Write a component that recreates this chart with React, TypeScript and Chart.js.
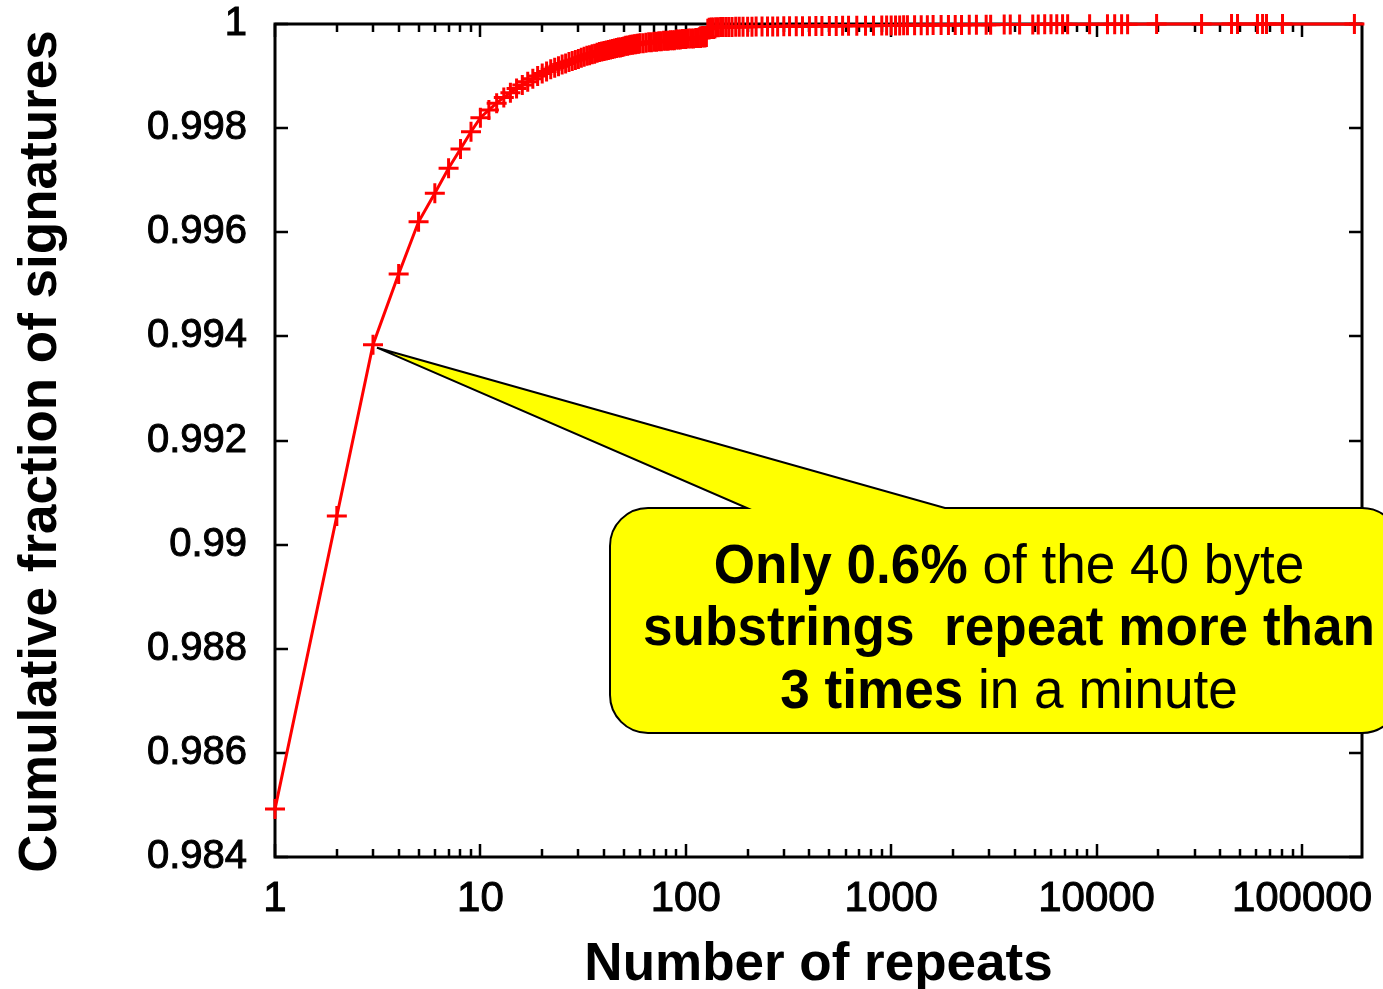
import React, { useEffect, useRef } from "react";
import { Chart, registerables } from "chart.js";

Chart.register(...registerables);

// ---- data ----
const repeatCounts: number[] = [
  1, 2, 3, 4, 5, 6, 7, 8, 9,
  10, 11, 12, 13, 14, 15, 16, 17, 18, 19,
  20, 21, 22, 23, 24, 25, 26, 27, 28, 29,
  30, 31, 32, 33, 34, 35, 36, 37, 38, 39,
  40, 41, 42, 43, 44, 45, 46, 47, 48, 49,
  50, 51, 52, 53, 54, 55, 56, 57, 58, 59,
  60, 62, 64, 66, 68, 70, 72, 74, 76, 78,
  80, 82, 84, 86, 88, 90, 92, 94, 96, 98,
  100, 103, 106, 109, 112, 115, 118, 121, 124, 126,
  128, 130, 133, 136, 140, 144, 148, 152, 157, 162,
  168, 175, 182, 190, 200, 210, 220, 235, 250, 265,
  280, 300, 320, 345, 370, 400, 430, 460, 500, 540,
  580, 620, 680, 750, 820, 900, 950, 1000, 1050, 1100,
  1150, 1200, 1300, 1400, 1500, 1600, 1750, 1900, 2050, 2200,
  2400, 2600, 2900, 3050, 3550, 3800, 4220, 4890, 5200, 5590,
  6000, 6400, 6830, 7230, 9250, 11300, 12250, 13240, 14160, 19600,
  32450, 45400, 48550, 60700, 64300, 67200, 80400, 180000,
];

const cumulativeFraction: number[] = [
  0.98492, 0.99055, 0.99384, 0.9952, 0.9962, 0.99675, 0.99723, 0.9976, 0.99793,
  0.9982, 0.99835, 0.99848, 0.99859, 0.99868, 0.99876, 0.99883, 0.99889, 0.99895, 0.999,
  0.99905, 0.99909, 0.99913, 0.99916, 0.99919, 0.99922, 0.99924, 0.99927, 0.99929, 0.99931,
  0.99933, 0.99935, 0.99937, 0.99939, 0.9994, 0.99942, 0.99943, 0.99945, 0.99946, 0.99947,
  0.99948, 0.99949, 0.9995, 0.99951, 0.99952, 0.99953, 0.99954, 0.99955, 0.99955, 0.99956,
  0.99957, 0.99958, 0.99958, 0.99959, 0.9996, 0.9996, 0.99961, 0.99961, 0.99962, 0.99962,
  0.99963, 0.99963, 0.99964, 0.99965, 0.99965, 0.99966, 0.99966, 0.99967, 0.99967, 0.99968,
  0.99968, 0.99968, 0.99969, 0.99969, 0.99969, 0.9997, 0.9997, 0.9997, 0.99971, 0.99971,
  0.99971, 0.99972, 0.99972, 0.99972, 0.99973, 0.99973, 0.99973, 0.99974, 0.99974, 0.99975,
  0.99991, 0.99993, 0.999932, 0.999934, 0.999936, 0.999938, 0.99994, 0.999941, 0.999942, 0.999943,
  0.999944, 0.999945, 0.999946, 0.999947, 0.999948, 0.999949, 0.99995, 0.999951, 0.999952, 0.999953,
  0.999954, 0.999955, 0.999956, 0.999957, 0.999958, 0.999959, 0.99996, 0.999961, 0.999962, 0.999963,
  0.999964, 0.999965, 0.999966, 0.999967, 0.999968, 0.999969, 0.99997, 0.999971, 0.999972, 0.999973,
  0.999974, 0.999975, 0.999976, 0.999977, 0.999978, 0.999979, 0.99998, 0.999981, 0.999982, 0.999983,
  0.999984, 0.999985, 0.999986, 0.999987, 0.999988, 0.999989, 0.99999, 0.999991, 0.999992, 0.999993,
  0.999993, 0.999994, 0.999994, 0.999995, 0.999995, 0.999996, 0.999996, 0.999997, 0.999997, 0.999998,
  0.999998, 0.999998, 0.999999, 0.999999, 0.999999, 0.999999, 0.999999, 1,
];

const xTickValues: number[] = [1, 10, 100, 1000, 10000, 100000];
const xTickLabels: string[] = ["1", "10", "100", "1000", "10000", "100000"];
const yTickValues: number[] = [0.984, 0.986, 0.988, 0.99, 0.992, 0.994, 0.996, 0.998, 1];
const yTickLabels: string[] = ["0.984", "0.986", "0.988", "0.99", "0.992", "0.994", "0.996", "0.998", "1"];

const xTitle = "Number of repeats";
const yTitle = "Cumulative fraction of signatures";

// callout: annotated point index and text runs
const calloutPointIndex = 2; // the point at 3 repeats
const calloutLines: { text: string; bold: boolean }[][] = [
  [
    { text: "Only 0.6%", bold: true },
    { text: " of the 40 byte", bold: false },
  ],
  [{ text: "substrings  repeat more than", bold: true }],
  [
    { text: "3 times", bold: true },
    { text: " in a minute", bold: false },
  ],
];

const FONT = "'Liberation Sans', Arial, Helvetica, sans-serif";
const RED = "#ff0000";

const framePlugin = {
  id: "gnuplotFrame",
  beforeDatasetsDraw(chart: any) {
    const { ctx, chartArea, scales } = chart;
    const { left, right, top, bottom } = chartArea;
    const xs = scales.x;
    const ys = scales.y;
    ctx.save();
    ctx.strokeStyle = "#000";
    ctx.lineCap = "butt";
    ctx.lineWidth = 2.5;
    ctx.beginPath();
    for (let d = 1; d <= xs.max; d *= 10) {
      for (let m = 1; m <= 9; m++) {
        const v = m * d;
        if (v < xs.min || v > xs.max) continue;
        const px = Math.round(xs.getPixelForValue(v));
        const len = m === 1 ? 13 : 8;
        ctx.moveTo(px, bottom);
        ctx.lineTo(px, bottom - len);
        ctx.moveTo(px, top);
        ctx.lineTo(px, top + len);
      }
    }
    for (const v of yTickValues) {
      const py = Math.round(ys.getPixelForValue(v));
      ctx.moveTo(left, py);
      ctx.lineTo(left + 13, py);
      ctx.moveTo(right, py);
      ctx.lineTo(right - 13, py);
    }
    ctx.stroke();
    ctx.lineWidth = 3;
    ctx.strokeRect(left, top, right - left, bottom - top);
    ctx.restore();
  },
  afterDraw(chart: any) {
    const { ctx, chartArea, scales } = chart;
    const { left, right, top, bottom } = chartArea;
    ctx.save();
    // axis titles
    ctx.fillStyle = "#000";
    ctx.font = `bold 53px ${FONT}`;
    ctx.textAlign = "center";
    ctx.textBaseline = "alphabetic";
    ctx.fillText(xTitle, (left + right) / 2, 980);
    ctx.save();
    ctx.translate(56, (top + bottom) / 2 + 11);
    ctx.rotate(-Math.PI / 2);
    ctx.fillText(yTitle, 0, 0);
    ctx.restore();

    // callout
    const tipX = scales.x.getPixelForValue(repeatCounts[calloutPointIndex]) + 4;
    const tipY = scales.y.getPixelForValue(cumulativeFraction[calloutPointIndex]) + 3;
    const L = left + 335;
    const T = top + 484;
    const B = top + 709;
    const R = right + 38;
    const r = 38;
    const baseL = left + 472;
    const baseR = left + 670;
    ctx.beginPath();
    ctx.moveTo(L + r, T);
    ctx.lineTo(baseL, T);
    ctx.lineTo(tipX, tipY);
    ctx.lineTo(baseR, T);
    ctx.lineTo(R - r, T);
    ctx.arcTo(R, T, R, T + r, r);
    ctx.lineTo(R, B - r);
    ctx.arcTo(R, B, R - r, B, r);
    ctx.lineTo(L + r, B);
    ctx.arcTo(L, B, L, B - r, r);
    ctx.lineTo(L, T + r);
    ctx.arcTo(L, T, L + r, T, r);
    ctx.closePath();
    ctx.fillStyle = "#ffff00";
    ctx.fill();
    ctx.lineWidth = 2;
    ctx.strokeStyle = "#000";
    ctx.lineJoin = "miter";
    ctx.stroke();

    // callout text, slightly condensed like the original
    const size = 55;
    const fontFor = (bold: boolean) => `${bold ? "bold " : ""}${size}px ${FONT}`;
    const widthOf = (line: { text: string; bold: boolean }[]) =>
      line.reduce((w, run) => {
        ctx.font = fontFor(run.bold);
        return w + ctx.measureText(run.text).width;
      }, 0);
    const targetWidest = 732;
    const squeeze = targetWidest / widthOf(calloutLines[1]);
    const cx = left + 734;
    const baselines = [top + 559, top + 621, top + 684];
    ctx.fillStyle = "#000";
    ctx.textAlign = "left";
    ctx.textBaseline = "alphabetic";
    calloutLines.forEach((line, i) => {
      const w = widthOf(line) * squeeze;
      ctx.save();
      ctx.translate(cx - w / 2, baselines[i]);
      ctx.scale(squeeze, 1);
      let x = 0;
      for (const run of line) {
        ctx.font = fontFor(run.bold);
        ctx.fillText(run.text, x, 0);
        x += ctx.measureText(run.text).width;
      }
      ctx.restore();
    });
    ctx.restore();
  },
};

export default function App() {
  const canvasRef = useRef<HTMLCanvasElement | null>(null);

  useEffect(() => {
    document.body.style.margin = "0";
    document.body.style.overflow = "hidden";
    const canvas = canvasRef.current;
    if (!canvas) return;
    const points = repeatCounts.map((x, i) => ({ x, y: cumulativeFraction[i] }));
    const chart = new Chart(canvas, {
      type: "line",
      data: {
        datasets: [
          {
            data: points,
            borderColor: RED,
            backgroundColor: RED,
            borderWidth: 3,
            pointStyle: "cross",
            pointRadius: 10,
            pointBorderWidth: 3,
            pointBorderColor: RED,
            tension: 0,
            fill: false,
            clip: false as any,
          },
        ],
      },
      options: {
        animation: false,
        responsive: false,
        events: [],
        layout: { padding: { top: 24, right: 21, left: 0, bottom: 0 } },
        plugins: {
          legend: { display: false },
          tooltip: { enabled: false },
        },
        scales: {
          x: {
            type: "logarithmic",
            min: 1,
            max: 196000,
            position: "bottom",
            grid: { display: false, drawTicks: false },
            border: { display: false },
            afterBuildTicks: (scale: any) => {
              scale.ticks = xTickValues.map((v) => ({ value: v }));
            },
            afterFit: (scale: any) => {
              scale.height = 132;
              scale.paddingLeft = 0;
              scale.paddingRight = 0;
              scale.paddingTop = 0;
              scale.paddingBottom = 0;
            },
            ticks: {
              autoSkip: false,
              maxRotation: 0,
              minRotation: 0,
              padding: 17,
              color: "#000",
              textStrokeColor: "#000",
              textStrokeWidth: 1,
              font: { family: FONT, size: 42 },
              callback: (_v: any, i: number) => xTickLabels[i],
            },
          },
          y: {
            type: "linear",
            min: 0.984,
            max: 1,
            grid: { display: false, drawTicks: false },
            border: { display: false },
            afterBuildTicks: (scale: any) => {
              scale.ticks = yTickValues.map((v) => ({ value: v }));
            },
            afterFit: (scale: any) => {
              scale.width = 275;
              scale.paddingLeft = 0;
              scale.paddingRight = 0;
              scale.paddingTop = 0;
              scale.paddingBottom = 0;
            },
            ticks: {
              autoSkip: false,
              padding: 28,
              color: "#000",
              textStrokeColor: "#000",
              textStrokeWidth: 1,
              font: { family: FONT, size: 40 },
              callback: (_v: any, i: number) => yTickLabels[i],
            },
          },
        },
      },
      plugins: [framePlugin],
    } as any);
    return () => chart.destroy();
  }, []);

  return (
    <div style={{ position: "fixed", left: 0, top: 0, width: 1383, height: 989, background: "#fff" }}>
      <canvas ref={canvasRef} width={1383} height={989} style={{ display: "block" }} />
    </div>
  );
}
